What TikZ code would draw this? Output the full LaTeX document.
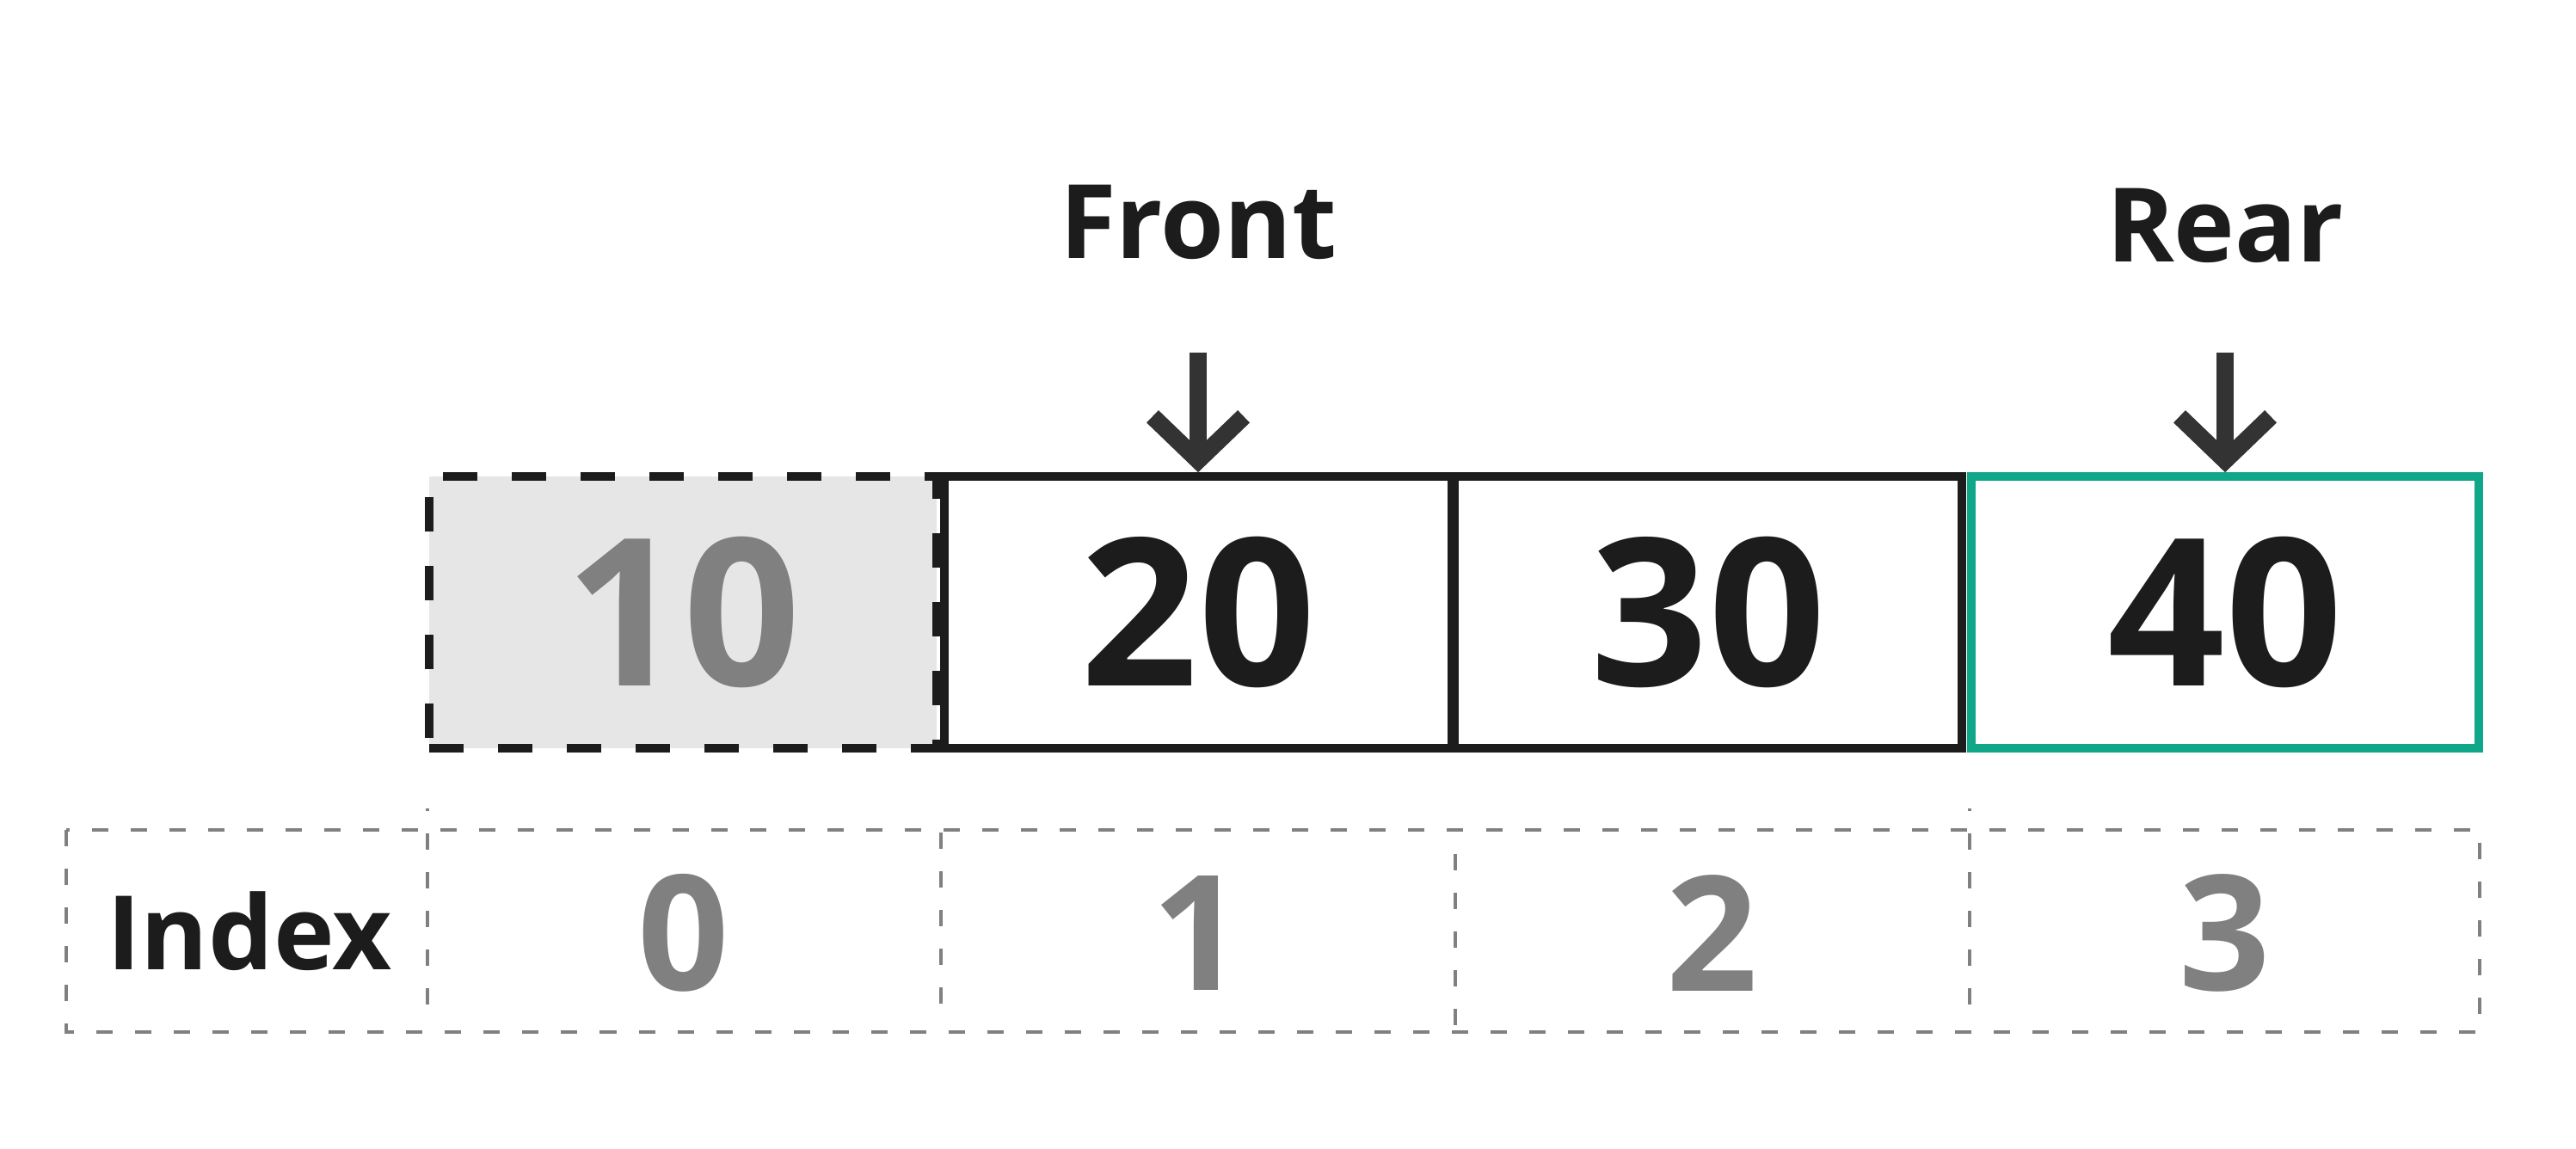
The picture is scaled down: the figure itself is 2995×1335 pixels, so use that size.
\documentclass[tikz,border=0pt]{standalone}
\usepackage{fontspec}
\setmainfont{Open Sans}
\usetikzlibrary{arrows.meta}

\definecolor{ink}{HTML}{1C1C1C}
\definecolor{pointer}{HTML}{333333}
\definecolor{rearGreen}{HTML}{10A688}
\definecolor{fadedGray}{HTML}{808080}
\definecolor{removedFill}{HTML}{E6E6E6}

\begin{document}
\begin{tikzpicture}[x = 0.01cm, y = -0.01cm, font=\bfseries]
	\tikzstyle{cellStyle}=[shape = rectangle, minimum width = 5.9cm, minimum height = 3.16cm, inner sep = 0pt, draw = ink, line width = 0.095cm, text = ink, font = \bfseries\fontsize{68}{68}\selectfont]
	\tikzstyle{removedStyle}=[cellStyle, fill = removedFill, text = fadedGray, dash pattern = on 0.4cm off 0.4cm]
	\tikzstyle{rearStyle}=[cellStyle, draw = rearGreen]
	\tikzstyle{labelStyle}=[text = ink, inner sep = 0pt, font = \bfseries\fontsize{34}{34}\selectfont]
	\tikzstyle{indexStyle}=[text = fadedGray, inner sep = 0pt, font = \bfseries\fontsize{53}{53}\selectfont]
	\tikzstyle{gridStyle}=[draw = fadedGray, line width = 0.045cm, dash pattern = on 0.19cm off 0.26cm]
	\tikzstyle{pointerStyle}=[draw = pointer, line width = 0.2cm, -{Straight Barb[length = 0.51cm, width = 1.06cm]}]
	\useasboundingbox (0,0) rectangle (2995,1335);
	% queue cells
	\node[removedStyle] (b0) at (794,712) {10};
	\node[cellStyle] (b1) at (1393,712) {20};
	\node[cellStyle] (b2) at (1986,712) {30};
	\node[rearStyle] (b3) at (2587,712) {40};
	% front and rear pointers
	\node[labelStyle] (front) at (1393,258) {Front};
	\node[labelStyle] (rear) at (2587,262) {Rear};
	\coordinate (fptr) at (1393,410);
	\coordinate (rptr) at (2587,410);
	\draw[pointerStyle] (fptr) -- (b1.north);
	\draw[pointerStyle] (rptr) -- (b3.north);
	% index row
	\draw[gridStyle] (77,965) rectangle (2883,1200);
	\draw[gridStyle, dash phase = 0.16cm] (497,940) -- (497,1168);
	\draw[gridStyle] (1094,968) -- (1094,1168);
	\draw[gridStyle] (1692,993) -- (1692,1193);
	\draw[gridStyle, dash phase = 0.16cm] (2290,940) -- (2290,1168);
	\node[labelStyle] (idx) at (290,1083) {Index};
	\node[indexStyle] (i0) at (795,1085) {0};
	\node[indexStyle] (i1) at (1393,1085) {1};
	\node[indexStyle] (i2) at (1991,1085) {2};
	\node[indexStyle] (i3) at (2587,1085) {3};
\end{tikzpicture}
\end{document}
